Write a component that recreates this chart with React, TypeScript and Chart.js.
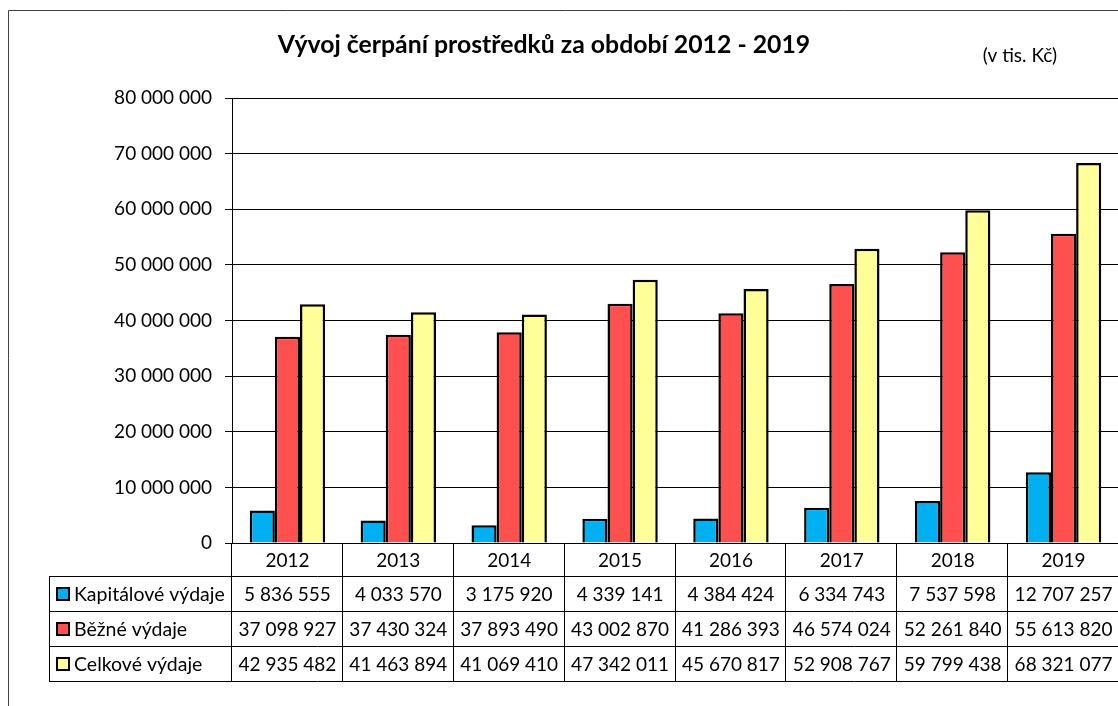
import React, { useEffect, useRef } from "react";
import { Chart, registerables } from "chart.js";

Chart.register(...registerables);

const years = ["2012", "2013", "2014", "2015", "2016", "2017", "2018", "2019"];
const kapitalove = [5836555, 4033570, 3175920, 4339141, 4384424, 6334743, 7537598, 12707257];
const bezne = [37098927, 37430324, 37893490, 43002870, 41286393, 46574024, 52261840, 55613820];
const celkove = [42935482, 41463894, 41069410, 47342011, 45670817, 52908767, 59799438, 68321077];
const seriesNames = ["Kapitálové výdaje", "Běžné výdaje", "Celkové výdaje"];
const seriesColors = ["#00B0F0", "#FF5050", "#FFFF99"];
const titleText = "Vývoj čerpání prostředků za období 2012 - 2019";
const unitText = "(v tis. Kč)";

const FONT = "Lato, 'Open Sans', sans-serif";

function fmt(n: number): string {
  return String(n).replace(/\B(?=(\d{3})+(?!\d))/g, " ");
}

const tablePlugin = {
  id: "dataTable",
  afterDraw(chart: any) {
    const ctx = chart.ctx as CanvasRenderingContext2D;
    const x = chart.scales.x;
    const area = chart.chartArea;
    const n = years.length;
    const catW = (x.getPixelForValue(1) - x.getPixelForValue(0));
    const left = area.left;
    const top = area.bottom;
    const rowH = [33, 35, 35, 35];
    const tableLeft = 49;
    ctx.save();
    // frame
    ctx.strokeStyle = "#404040";
    ctx.lineWidth = 1;
    ctx.beginPath();
    ctx.moveTo(8.5, 720);
    ctx.lineTo(8.5, 10.5);
    ctx.lineTo(1200, 10.5);
    ctx.stroke();

    // title
    ctx.fillStyle = "#000";
    ctx.font = `bold 24.8px ${FONT}`;
    ctx.textAlign = "center";
    ctx.textBaseline = "alphabetic";
    ctx.fillText(titleText, 544, 53);
    ctx.font = `19px ${FONT}`;
    ctx.fillText(unitText, 1020, 62);

    // table lines
    const ys: number[] = [top];
    for (const h of rowH) ys.push(ys[ys.length - 1] + h);
    ctx.strokeStyle = "#000";
    ctx.lineWidth = 1;
    ctx.beginPath();
    for (let r = 1; r < ys.length; r++) {
      const yy = Math.round(ys[r]) + 0.5;
      ctx.moveTo(tableLeft, yy);
      ctx.lineTo(1200, yy);
    }
    for (let i = 0; i <= n; i++) {
      const xx = Math.round(left + i * catW) - 0.5;
      ctx.moveTo(xx, top);
      ctx.lineTo(xx, ys[ys.length - 1] + 0.5);
    }
    const lx = tableLeft + 0.5;
    ctx.moveTo(lx, ys[1]);
    ctx.lineTo(lx, ys[ys.length - 1] + 0.5);
    ctx.stroke();

    // texts
    ctx.font = `19px ${FONT}`;
    ctx.textAlign = "center";
    ctx.textBaseline = "middle";
    ctx.fillStyle = "#000";
    for (let i = 0; i < n; i++) {
      const cx = x.getPixelForValue(i);
      ctx.fillText(years[i], cx, (ys[0] + ys[1]) / 2 + 1);
    }
    const data = [kapitalove, bezne, celkove];
    for (let s = 0; s < 3; s++) {
      const cy = (ys[s + 1] + ys[s + 2]) / 2 + 1;
      for (let i = 0; i < n; i++) {
        const cx = x.getPixelForValue(i);
        ctx.fillText(fmt(data[s][i]), cx, cy);
      }
      // legend key
      const by = Math.round(cy - 7);
      ctx.fillStyle = seriesColors[s];
      ctx.fillRect(57, by, 12, 12);
      ctx.strokeStyle = "#000";
      ctx.lineWidth = 2;
      ctx.strokeRect(57, by, 12, 12);
      ctx.fillStyle = "#000";
      ctx.textAlign = "left";
      ctx.font = `19.5px ${FONT}`;
      ctx.fillText(seriesNames[s], 74, cy);
      ctx.font = `19px ${FONT}`;
      ctx.textAlign = "center";
    }
    ctx.restore();
  },
};

export default function App() {
  const ref = useRef<HTMLCanvasElement | null>(null);
  useEffect(() => {
    if (!ref.current) return;
    const chart = new Chart(ref.current, {
      type: "bar",
      data: {
        labels: years,
        datasets: [
          { label: seriesNames[0], data: kapitalove, backgroundColor: seriesColors[0] },
          { label: seriesNames[1], data: bezne, backgroundColor: seriesColors[1] },
          { label: seriesNames[2], data: celkove, backgroundColor: seriesColors[2] },
        ].map((d) => ({
          ...d,
          borderColor: "#000",
          borderWidth: 2.5,
          categoryPercentage: 0.68,
          barPercentage: 1,
        })),
      },
      options: {
        animation: false,
        responsive: false,
        maintainAspectRatio: false,
        layout: { padding: { left: 0, right: 3, top: 98, bottom: 163 } },
        plugins: {
          legend: { display: false },
          title: { display: false },
          tooltip: { enabled: false },
        },
        scales: {
          x: {
            ticks: { display: false },
            grid: { display: false },
            border: { display: true, color: "#000", width: 1 },
            afterFit: (s: any) => {
              s.height = 0;
            },
          },
          y: {
            min: 0,
            max: 80000000,
            ticks: {
              stepSize: 10000000,
              color: "#000",
              padding: 13,
              font: { family: FONT, size: 19 },
              callback: (v: any) => fmt(Number(v)),
            },
            grid: { color: "#000", lineWidth: 1, tickLength: 7, tickColor: "#000" },
            border: { display: true, color: "#000", width: 1 },
            afterFit: (s: any) => {
              s.width = 232;
            },
          },
        },
      },
      plugins: [tablePlugin],
    });
    return () => chart.destroy();
  }, []);
  return (
    <div style={{ position: "fixed", left: 0, top: 0, width: 1118, height: 706, overflow: "hidden", background: "#fff" }}>
      <canvas ref={ref} width={1122} height={706} style={{ display: "block", width: 1122, height: 706 }} />
    </div>
  );
}
